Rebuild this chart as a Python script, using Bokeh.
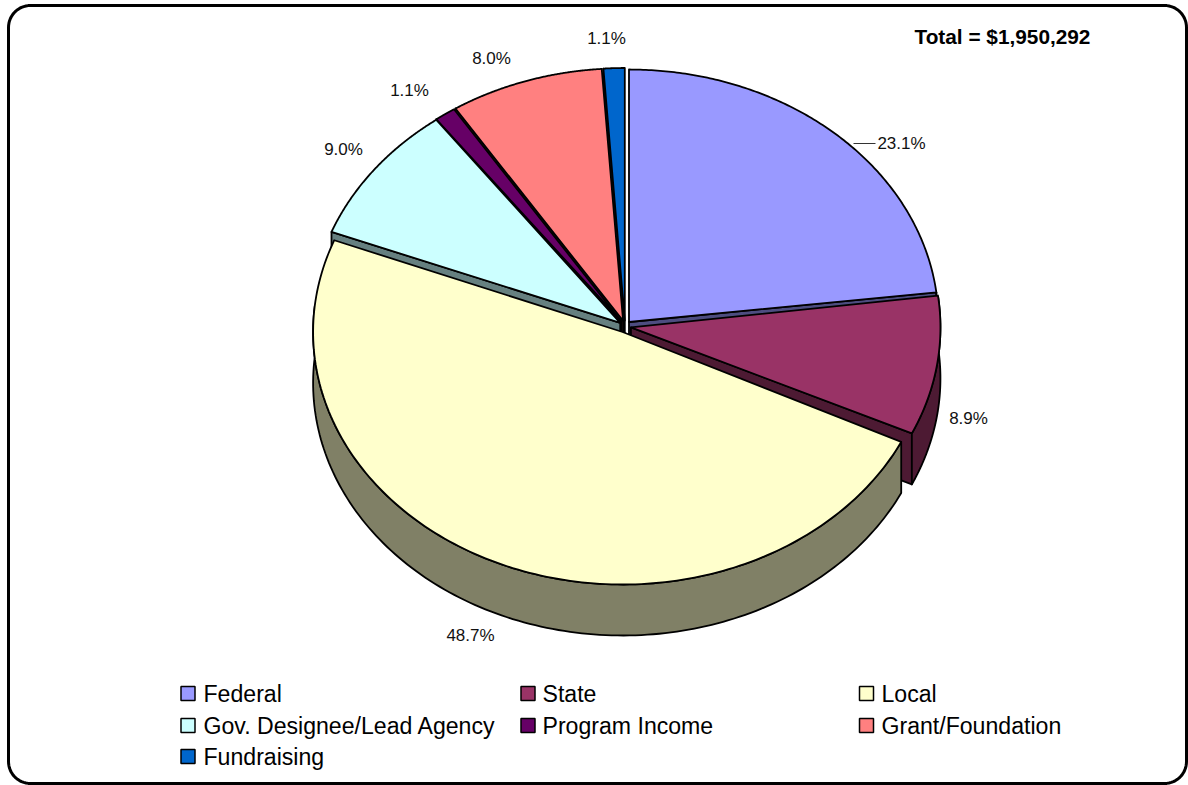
import numpy as np
from bokeh.embed import file_html
from bokeh.models import ColumnDataSource, Range1d
from bokeh.plotting import figure
from bokeh.resources import INLINE
from bokeh.core.properties import value

# Funding sources, in clockwise order from twelve o'clock
categories = ["Federal", "State", "Local", "Gov. Designee/Lead Agency",
              "Program Income", "Grant/Foundation", "Fundraising"]
shares = [23.1, 8.9, 48.7, 9.0, 1.1, 8.0, 1.1]
total_label = "Total = $1,950,292"
top_colors = ["#9999FF", "#993366", "#FFFFCC", "#CCFFFF", "#660066", "#FF8080", "#0066CC"]
side_colors = ["#4D4D80", "#4D1A33", "#808066", "#668080", "#330033", "#804040", "#003366"]

W, H = 1188, 785
CX, CY, RX, RY = 624.5, 326, 309.5, 252.5   # ellipse of the tilted pie
DEPTH = 51                                  # thickness of the disc
EXPLODE = 6                                 # how far each wedge is pulled out
FONT = "Liberation Sans"

# Small per-wedge turn in degrees; the sweep of each wedge stays as computed
wedge_turn = [0.0, -0.5, 0.5, 0.3, 0.0, 0.0, 0.0]

p = figure(width=W, height=H, output_backend="svg", toolbar_location=None,
           x_range=Range1d(0, W), y_range=Range1d(H, 0), min_border=0,
           background_fill_color="white", border_fill_color="white",
           outline_line_color=None)
p.axis.visible = False
p.grid.visible = False

# Rounded chart frame
def frame(x0, y0, x1, y1, r):
    t = np.linspace(0, np.pi / 2, 16)
    xs = np.concatenate([x1 - r + r * np.sin(t), x1 - r + r * np.cos(t),
                         x0 + r - r * np.sin(t), x0 + r - r * np.cos(t)])
    ys = np.concatenate([y0 + r - r * np.cos(t), y1 - r + r * np.sin(t),
                         y1 - r + r * np.cos(t), y0 + r - r * np.sin(t)])
    return xs, ys

fx, fy = frame(8, 5, 1186, 783, 22)
p.patch(fx, fy, fill_color="white", line_color="black", line_width=3)

# Wedge angles, measured clockwise from the top
edges = np.radians(np.concatenate([[0], np.cumsum(shares)]) / np.sum(shares) * 360)

def rim(t, cx, cy):
    return cx + RX * np.sin(t), cy - RY * np.cos(t)

shapes = {"xs": [], "ys": [], "fill": []}

def add(xs, ys, color):
    shapes["xs"].append(list(xs))
    shapes["ys"].append(list(ys))
    shapes["fill"].append(color)

# Paint from the back of the disc to the front
for i in [6, 5, 4, 3, 0, 1, 2]:
    turn = np.radians(wedge_turn[i])
    a, b = edges[i] + turn, edges[i + 1] + turn
    mid = (a + b) / 2
    cx = CX + EXPLODE * np.sin(mid)
    cy = CY - EXPLODE * np.cos(mid)
    t = np.linspace(a, b, 160)
    rx, ry = rim(t, cx, cy)

    # radial cut faces: only the one looking towards the viewer
    if a > np.pi:
        ex, ey = rim(a, cx, cy)
        add([cx, ex, ex, cx], [cy, ey, ey + DEPTH, cy + DEPTH], side_colors[i])
    if b < np.pi:
        ex, ey = rim(b, cx, cy)
        add([cx, ex, ex, cx], [cy, ey, ey + DEPTH, cy + DEPTH], side_colors[i])

    # curved outer face, only where it turns towards the viewer
    front = np.cos(t) < 0.12
    if front.any():
        wx, wy = rx[front], ry[front]
        add(np.concatenate([wx, wx[::-1]]),
            np.concatenate([wy, wy[::-1] + DEPTH]), side_colors[i])

    # top face
    add(np.concatenate([[cx], rx]), np.concatenate([[cy], ry]), top_colors[i])

p.patches("xs", "ys", source=ColumnDataSource(shapes), fill_color="fill",
          line_color="black", line_width=1.8, line_join="round")

# Percentage labels around the pie
label_x = [901, 968, 470, 343, 409, 491, 606]
label_y = [143, 418, 635, 149, 90, 58, 38]
label_text = [f"{s:.1f}%" for s in shares]
p.text(label_x, label_y, text=label_text, text_align="center", text_baseline="middle",
       text_font=value(FONT), text_font_size="17px", text_color="#111111")

# Leader line to the Federal label
p.line([853, 875], [143, 143], line_color="#333333", line_width=1)

p.text([914], [35.5], text=[total_label], text_align="left", text_baseline="middle",
       text_font=value(FONT), text_font_style="bold", text_font_size="20.8px",
       text_color="black")

# Legend, three columns wide
col_swatch = [187.5, 527.5, 866]
col_text = [203, 542, 881]
row_y = [693, 725, 756]
lx = [col_swatch[i % 3] for i in range(len(categories))]
ly = [row_y[i // 3] for i in range(len(categories))]
tx = [col_text[i % 3] for i in range(len(categories))]
p.rect(lx, ly, width=14, height=14, fill_color=top_colors, line_color="black", line_width=1.5)
p.text(tx, ly, text=categories, text_align="left", text_baseline="middle",
       text_font=value(FONT), text_font_size="23.1px", text_color="black")

open("out.html", "w").write(file_html(p, INLINE))
